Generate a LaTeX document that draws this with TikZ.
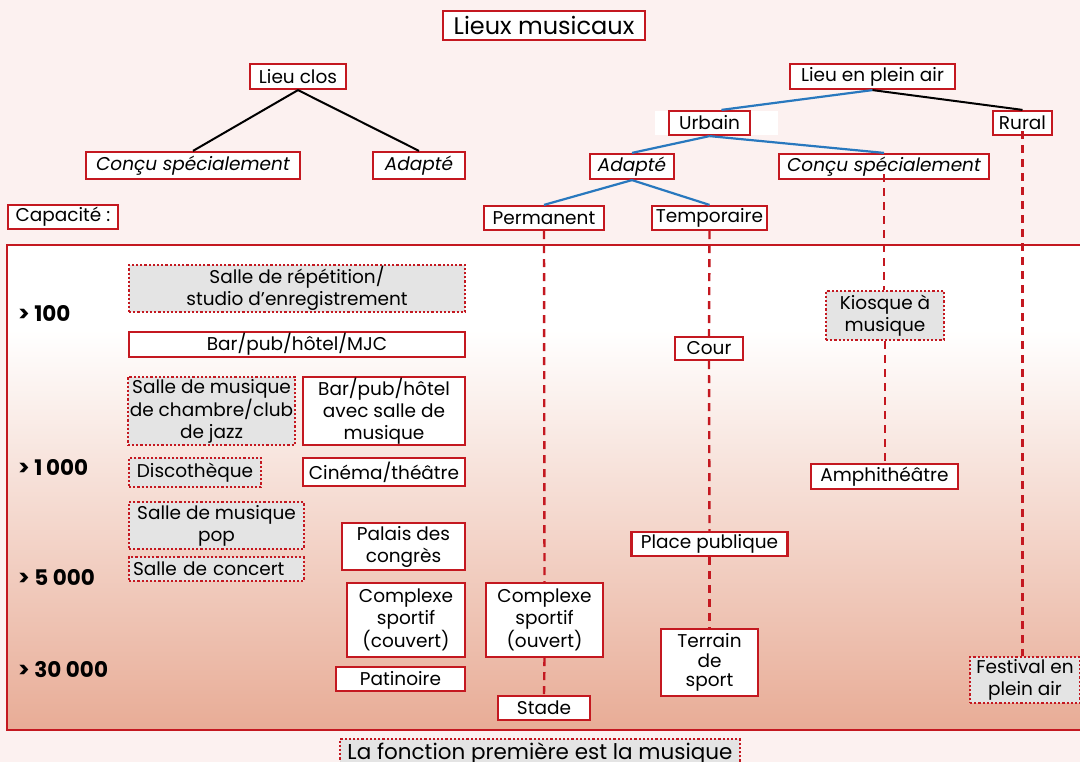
\documentclass[tikz,border=0pt]{standalone}
\usepackage{fontspec}
\setmainfont{Poppins}
\usetikzlibrary{positioning}

\definecolor{lieurouge}{RGB}{196,24,32}
\definecolor{lieubleu}{RGB}{40,120,190}
\definecolor{fondrose}{RGB}{252,241,240}
\definecolor{saumon}{RGB}{232,172,150}
\definecolor{grisclair}{RGB}{228,228,228}

\tikzset{
  lieu/.style={draw=lieurouge, line width=2.2pt, fill=white, inner xsep=2pt, inner ysep=1pt,
    align=center, font=\fontsize{18.5}{22}\selectfont, minimum height=24pt},
  autre/.style={lieu, fill=grisclair, dotted, line width=2pt},
  genre/.style={lieu, font=\fontsize{18.5}{22}\selectfont\itshape},
  branche/.style={line width=2.2pt, lieubleu},
  tige/.style={line width=2pt, black},
  suite/.style={draw=lieurouge, line width=2.4pt, dash pattern=on 8pt off 6pt},
  seuil/.style={font=\fontsize{21.5}{24}\selectfont\bfseries, anchor=west, inner sep=0pt}
}

\begin{document}
\begin{tikzpicture}[x=1pt, y=-1pt]
\useasboundingbox[fill=fondrose] (0,0) rectangle (1080,762);

% fond du tableau des capacites
\fill[white] (7,245) rectangle (1090,330);
\shade[top color=white, bottom color=saumon] (7,330) rectangle (1090,730);
\draw[lieurouge, line width=2.4pt] (7,245) rectangle (1090,730);

% arbre du haut
\node[lieu, font=\fontsize{24}{26}\selectfont, minimum width=202pt, minimum height=29pt] (titre) at (544,25.5) {Lieux musicaux};
\node[lieu, minimum width=96pt, minimum height=25pt] (clos) at (298,76.5) {Lieu clos};
\node[genre, minimum width=214pt, minimum height=27pt] (closconcu) at (193,165.5) {Conçu spécialement};
\node[genre, minimum width=92pt, minimum height=27pt] (closadapte) at (419,165.5) {Adapté};
\node[lieu, minimum width=110pt] (capacite) at (63,217) {Capacité :};
\node[lieu, minimum width=165pt, minimum height=25pt] (plein) at (872.5,76.5) {Lieu en plein air};
\fill[white] (655,111) rectangle (778,135);
\node[lieu, minimum width=81pt] (urbain) at (709.5,123) {Urbain};
\node[lieu, minimum width=59pt] (rural) at (1022.5,123) {Rural};
\node[genre, minimum width=84pt, minimum height=25pt] (adapte) at (632,166.5) {Adapté};
\node[genre, minimum width=210pt, minimum height=25pt] (concu) at (884,166.5) {Conçu spécialement};
\node[lieu, minimum width=120pt] (permanent) at (544,218) {Permanent};
\node[lieu, minimum width=115pt] (temporaire) at (709.5,218) {Temporaire};

% capacites
\node[seuil] (c100) at (18,313) {> 100};
\node[seuil] (c1000) at (18,467) {> 1\,000};
\node[seuil] (c5000) at (18,577) {> 5 000};
\node[seuil] (c30000) at (18,670) {> 30 000};

% lieux clos
\node[autre, minimum width=336pt, minimum height=47pt] (repetition) at (297,288.5) {Salle de répétition/\\studio d’enregistrement};
\node[lieu, minimum width=336pt, minimum height=23pt] (barpub) at (297,344.5) {Bar/pub/hôtel/MJC};
\node[autre, minimum width=165pt, minimum height=68pt] (chambre) at (211.5,411) {Salle de musique\\de chambre/club\\de jazz};
\node[lieu, minimum width=162pt, minimum height=68pt] (barsalle) at (384,411) {Bar/pub/hôtel\\avec salle de\\musique};
\node[autre, minimum width=132pt, minimum height=29pt] (disco) at (195,472.5) {Discothèque};
\node[lieu, minimum width=162pt, minimum height=28pt] (cinema) at (384,472) {Cinéma/théâtre};
\node[autre, minimum width=175pt, minimum height=47pt] (pop) at (216.5,525.5) {Salle de musique\\pop};
\node[autre, minimum width=175pt, minimum height=24pt, align=left, text width=167pt] (concert) at (216.5,569) {Salle de concert};
\node[lieu, minimum width=123pt, minimum height=47pt] (palais) at (403.5,546.5) {Palais des\\congrès};
\node[lieu, minimum width=118pt, minimum height=74pt] (couvert) at (406,620) {Complexe\\sportif\\(couvert)};
\node[lieu, minimum width=129pt] (patinoire) at (400.5,679) {Patinoire};

% lieux en plein air
\node[lieu, minimum width=117pt, minimum height=74pt] (ouvert) at (544.5,620) {Complexe\\sportif\\(ouvert)};
\node[lieu, minimum width=92pt] (stade) at (544,708) {Stade};
\node[lieu, minimum width=68pt, minimum height=23pt] (cour) at (709,348.5) {Cour};
\node[lieu, minimum width=156pt] (place) at (709.5,544) {Place publique};
\node[lieu, minimum width=97pt, minimum height=67pt, font=\fontsize{18.5}{19.5}\selectfont] (terrain) at (709.5,662.5) {Terrain\\de\\sport};
\node[autre, minimum width=118pt, minimum height=49pt] (kiosque) at (885,315.5) {Kiosque à\\musique};
\node[lieu, minimum width=147pt, minimum height=25pt] (amphi) at (884.5,476.5) {Amphithéâtre};
\node[autre, minimum width=110pt, minimum height=46pt] (festival) at (1025,680) {Festival en\\plein air};
\node[autre, font=\fontsize{21.5}{24}\selectfont, minimum width=400pt, minimum height=30pt] (fonction) at (540,754) {La fonction première est la musique};

% liaisons
\draw[tige] (clos.south) -- (closconcu.north);
\draw[tige] (clos.south) -- (closadapte.north);
\draw[branche] (plein.south) -- ([xshift=12pt]urbain.north);
\draw[tige] (plein.south) -- (rural.north);
\draw[branche] (urbain.south) -- (adapte.north);
\draw[branche] (urbain.south) -- (concu.north);
\draw[branche] (adapte.south) -- (permanent.north);
\draw[branche] (adapte.south) -- (temporaire.north);

\draw[suite] (permanent.south) -- (ouvert.north);
\draw[suite] (ouvert.south) -- (stade.north);
\draw[suite] (temporaire.south) -- (cour.north);
\draw[suite] (cour.south) -- (place.north);
\draw[suite] (place.south) -- (terrain.north);
\draw[suite] ([yshift=6pt]concu.south) -- (concu.south |- kiosque.north);
\draw[suite] (kiosque.south) -- (kiosque.south |- amphi.north);
\draw[suite] ([yshift=5pt]rural.south) -- (rural.south |- festival.north);
\end{tikzpicture}
\end{document}
